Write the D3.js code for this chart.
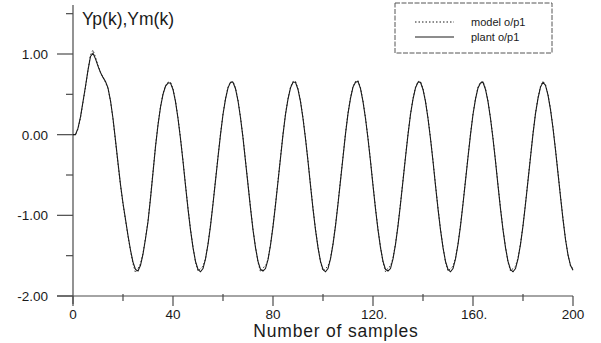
<!DOCTYPE html>
<html>
<head>
<meta charset="utf-8">
<script src="https://cdn.jsdelivr.net/npm/d3@7"></script>
<style>
  html, body { margin: 0; padding: 0; background: #fff; }
  svg { display: block; font-family: "Liberation Sans", Arial, sans-serif; }
</style>
</head>
<body>
<div class="chart"></div>
<script>
// plant output, one value per sample k = 0..200
const plantStart = [
  0.00, 0.00, 0.08, 0.22, 0.41, 0.60, 0.80, 0.97, 1.01, 0.94,
  0.85, 0.77, 0.71, 0.66, 0.58, 0.42, 0.20, -0.07, -0.35, -0.62,
  -0.85, -1.05, -1.25, -1.43, -1.58, -1.67, -1.69, -1.62, -1.48, -1.29,
  -1.08, -0.79, -0.47, -0.15, 0.12, 0.34, 0.50, 0.60, 0.64
];
const plantCycles = [
  [0.64, 0.56, 0.41, 0.20, -0.05, -0.33, -0.63, -0.92, -1.18, -1.40, -1.57, -1.67, -1.70, -1.66, -1.54, -1.36, -1.13, -0.86, -0.57, -0.28, 0.00, 0.25, 0.44, 0.58, 0.65],
  [0.65, 0.57, 0.42, 0.21, -0.04, -0.33, -0.62, -0.91, -1.18, -1.40, -1.57, -1.67, -1.69, -1.66, -1.55, -1.37, -1.14, -0.87, -0.58, -0.29, 0.00, 0.25, 0.44, 0.58, 0.65],
  [0.65, 0.56, 0.41, 0.20, -0.05, -0.33, -0.63, -0.92, -1.18, -1.40, -1.57, -1.67, -1.70, -1.66, -1.54, -1.36, -1.13, -0.86, -0.57, -0.28, 0.01, 0.26, 0.45, 0.59, 0.65],
  [0.66, 0.57, 0.41, 0.20, -0.05, -0.33, -0.63, -0.92, -1.18, -1.40, -1.57, -1.67, -1.69, -1.66, -1.54, -1.36, -1.13, -0.86, -0.57, -0.28, 0.00, 0.25, 0.44, 0.58, 0.65],
  [0.65, 0.56, 0.41, 0.20, -0.05, -0.33, -0.63, -0.92, -1.18, -1.40, -1.57, -1.67, -1.70, -1.66, -1.54, -1.36, -1.13, -0.86, -0.57, -0.28, 0.00, 0.25, 0.44, 0.58, 0.64],
  [0.65, 0.56, 0.41, 0.20, -0.05, -0.33, -0.63, -0.92, -1.18, -1.40, -1.57, -1.67, -1.70, -1.66, -1.54, -1.36, -1.13, -0.86, -0.57, -0.28, 0.01, 0.26, 0.45, 0.59, 0.65]
];
const plantEnd = [0.61, 0.49, 0.31, 0.08, -0.19, -0.48, -0.77, -1.05, -1.30, -1.49, -1.62, -1.68];

// model output
const modelStart = [
  0.00, 0.00, 0.07, 0.21, 0.40, 0.59, 0.80, 0.99, 1.05, 0.96,
  0.86, 0.77, 0.71, 0.65, 0.57, 0.42, 0.19, -0.08, -0.36, -0.63,
  -0.86, -1.06, -1.26, -1.44, -1.60, -1.71, -1.66, -1.60, -1.47, -1.28,
  -1.07, -0.78, -0.46, -0.14, 0.13, 0.35, 0.51, 0.61, 0.65
];
const modelCycles = [
  [0.65, 0.57, 0.42, 0.21, -0.04, -0.32, -0.62, -0.91, -1.17, -1.39, -1.58, -1.69, -1.66, -1.63, -1.54, -1.35, -1.12, -0.85, -0.56, -0.27, 0.01, 0.26, 0.45, 0.59, 0.65],
  [0.66, 0.58, 0.43, 0.22, -0.03, -0.32, -0.61, -0.90, -1.17, -1.39, -1.58, -1.70, -1.65, -1.63, -1.55, -1.36, -1.13, -0.86, -0.57, -0.28, 0.01, 0.26, 0.45, 0.59, 0.66],
  [0.66, 0.57, 0.42, 0.21, -0.04, -0.32, -0.62, -0.91, -1.17, -1.39, -1.58, -1.69, -1.66, -1.63, -1.53, -1.35, -1.12, -0.85, -0.56, -0.27, 0.02, 0.27, 0.46, 0.60, 0.66],
  [0.67, 0.58, 0.42, 0.21, -0.04, -0.32, -0.62, -0.91, -1.17, -1.39, -1.58, -1.70, -1.65, -1.63, -1.53, -1.35, -1.12, -0.85, -0.56, -0.27, 0.01, 0.26, 0.45, 0.59, 0.66],
  [0.66, 0.57, 0.42, 0.21, -0.04, -0.32, -0.62, -0.91, -1.17, -1.39, -1.58, -1.69, -1.66, -1.63, -1.53, -1.35, -1.12, -0.85, -0.56, -0.27, 0.01, 0.26, 0.45, 0.59, 0.65],
  [0.66, 0.57, 0.42, 0.21, -0.04, -0.32, -0.62, -0.91, -1.17, -1.39, -1.58, -1.69, -1.66, -1.63, -1.53, -1.35, -1.12, -0.85, -0.56, -0.27, 0.02, 0.27, 0.46, 0.60, 0.66]
];
const modelEnd = [0.62, 0.50, 0.32, 0.09, -0.18, -0.47, -0.76, -1.04, -1.29, -1.49, -1.63, -1.66];

const xMajorTicks = [0, 40, 80, 120, 160, 200];
const xTickLabels = ["0", "40", "80", "120.", "160.", "200"];
const xMinorTicks = [20, 60, 100, 140, 180];
const yMajorTicks = [1, 0, -1, -2];
const yTickLabels = ["1.00", "0.00", "-1.00", "-2.00"];
const yMinorTicks = [1.5, 0.5, -0.5, -1.5];

const seriesNames = ["model o/p1", "plant o/p1"];

const WIDTH = 601;
const HEIGHT = 343;
const LEFT = 73;
const RIGHT = 573;
const TOP = 5;
const BOTTOM = 296;
const INK = "#1a1a1a";
const AXIS = "#4a4a4a";

const plant = plantStart.concat(...plantCycles, plantEnd);
const model = modelStart.concat(...modelCycles, modelEnd);

const svg = d3.create("svg")
  .attr("width", WIDTH)
  .attr("height", HEIGHT);

const x = d3.scaleLinear().domain([0, 200]).range([LEFT, RIGHT]);
const y = d3.scaleLinear().domain([-2, 1]).range([BOTTOM, 54]);

// y axis
const yAxis = svg.append("g");
yAxis.append("line")
  .attr("x1", LEFT).attr("x2", LEFT)
  .attr("y1", TOP).attr("y2", BOTTOM + 8)
  .attr("stroke", AXIS).attr("stroke-width", 1.2);

yAxis.selectAll(".major")
  .data(yMajorTicks)
  .join("line")
  .attr("x1", LEFT - 16).attr("x2", LEFT)
  .attr("y1", d => y(d)).attr("y2", d => y(d))
  .attr("stroke", AXIS).attr("stroke-width", 1.2);

yAxis.selectAll(".minor")
  .data(yMinorTicks)
  .join("line")
  .attr("x1", LEFT - 7).attr("x2", LEFT)
  .attr("y1", d => y(d)).attr("y2", d => y(d))
  .attr("stroke", AXIS).attr("stroke-width", 1.2);

yAxis.selectAll("text")
  .data(yMajorTicks)
  .join("text")
  .attr("x", 48)
  .attr("y", d => y(d))
  .attr("dy", "0.36em")
  .attr("text-anchor", "end")
  .attr("font-size", 13.5)
  .attr("fill", INK)
  .text((d, i) => yTickLabels[i]);

// x axis
const xAxis = svg.append("g");
xAxis.append("line")
  .attr("x1", LEFT - 16).attr("x2", RIGHT)
  .attr("y1", BOTTOM).attr("y2", BOTTOM)
  .attr("stroke", AXIS).attr("stroke-width", 1.2);

xAxis.selectAll(".major")
  .data(xMajorTicks)
  .join("line")
  .attr("x1", d => x(d)).attr("x2", d => x(d))
  .attr("y1", BOTTOM).attr("y2", BOTTOM + 10)
  .attr("stroke", AXIS).attr("stroke-width", 1.2);

xAxis.selectAll(".minor")
  .data(xMinorTicks)
  .join("line")
  .attr("x1", d => x(d)).attr("x2", d => x(d))
  .attr("y1", BOTTOM - 2).attr("y2", BOTTOM + 5)
  .attr("stroke", AXIS).attr("stroke-width", 1.2);

xAxis.selectAll("text")
  .data(xMajorTicks)
  .join("text")
  .attr("x", d => x(d))
  .attr("y", 319)
  .attr("text-anchor", d => (d === 120 || d === 160) ? "start" : "middle")
  .attr("dx", d => (d === 120 || d === 160) ? -12 : 0)
  .attr("font-size", 13.5)
  .attr("fill", INK)
  .text((d, i) => xTickLabels[i]);

svg.append("text")
  .attr("x", 336)
  .attr("y", 337)
  .attr("text-anchor", "middle")
  .attr("font-size", 17.5)
  .attr("letter-spacing", 0.8)
  .attr("fill", INK)
  .text("Number of samples");

svg.append("text")
  .attr("x", 82)
  .attr("y", 25)
  .attr("font-size", 17.5)
  .attr("fill", INK)
  .text("Yp(k),Ym(k)");

// curves
const line = d3.line()
  .x((d, i) => x(i))
  .y(d => y(d));

svg.append("path")
  .attr("d", line(model))
  .attr("fill", "none")
  .attr("stroke", "#333")
  .attr("stroke-width", 1)
  .attr("stroke-dasharray", "1.5,2");

svg.append("path")
  .attr("d", line(plant))
  .attr("fill", "none")
  .attr("stroke", INK)
  .attr("stroke-width", 1.1);

// legend
const legend = svg.append("g").attr("transform", "translate(395, 3)");
legend.append("rect")
  .attr("width", 157).attr("height", 50)
  .attr("fill", "#fff")
  .attr("stroke", "#555")
  .attr("stroke-dasharray", "5,1.5");

legend.selectAll("line")
  .data(seriesNames)
  .join("line")
  .attr("x1", 20).attr("x2", 59)
  .attr("y1", (d, i) => 19 + i * 15).attr("y2", (d, i) => 19 + i * 15)
  .attr("stroke", INK)
  .attr("stroke-width", 1)
  .attr("stroke-dasharray", (d, i) => i === 0 ? "1.5,2" : null);

legend.selectAll("text")
  .data(seriesNames)
  .join("text")
  .attr("x", 76)
  .attr("y", (d, i) => 19 + i * 15)
  .attr("dy", "0.35em")
  .attr("font-size", 11)
  .attr("fill", INK)
  .text(d => d);

document.querySelector(".chart").append(svg.node());
</script>
</body>
</html>
